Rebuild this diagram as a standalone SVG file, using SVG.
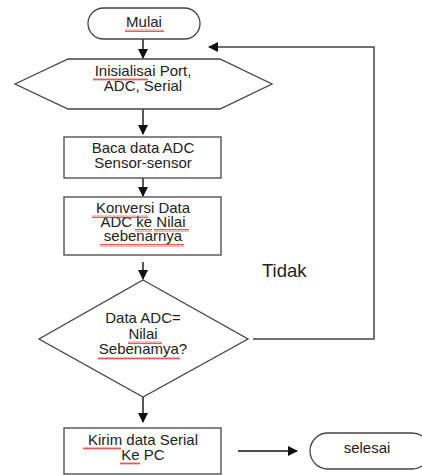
<svg xmlns="http://www.w3.org/2000/svg" width="422" height="475" viewBox="0 0 422 475">
<style>
.s{fill:#fff;stroke:#444;stroke-width:1.3}
.t{font-family:"Liberation Sans",Arial,sans-serif;font-size:15px;fill:#222;text-anchor:middle}
.c{fill:none;stroke:#111;stroke-width:1.4}
.w{fill:url(#wave)}
</style>
<defs>
<marker id="ah" markerWidth="10" markerHeight="10" refX="9" refY="5" orient="auto" markerUnits="userSpaceOnUse">
<path d="M0,0 L10,5 L0,10 Z" fill="#111"/>
</marker>
<pattern id="wave" width="4" height="3" patternUnits="userSpaceOnUse">
<path d="M0,2.5 L1,0.5 L2,2.5 L3,0.5 L4,2.5" fill="none" stroke="#e03030" stroke-width="0.8"/>
</pattern>
</defs>
<rect width="422" height="475" fill="#fff"/>
<g id="connectors">
<line class="c" x1="143" y1="39" x2="143" y2="58" marker-end="url(#ah)"/>
<line class="c" x1="143" y1="109" x2="143" y2="134" marker-end="url(#ah)"/>
<line class="c" x1="143" y1="178" x2="143" y2="196" marker-end="url(#ah)"/>
<line class="c" x1="143" y1="262" x2="143" y2="279" marker-end="url(#ah)"/>
<line class="c" x1="143" y1="397" x2="143" y2="422" marker-end="url(#ah)"/>
<line class="c" x1="238" y1="451" x2="297" y2="451" marker-end="url(#ah)"/>
<polyline class="c" style="stroke:#444;stroke-width:1.5" points="253,339 374,339 374,47 209,47" marker-end="url(#ah)"/>
<text class="t" x="262" y="277" style="font-size:18.5px;text-anchor:start">Tidak</text>
</g>
<g id="mulai">
<rect class="s" x="88" y="8" width="112" height="31" rx="15.5"/>
<text class="t" x="144" y="27">Mulai</text>
<rect class="w" x="125" y="29" width="39" height="3"/>
</g>
<g id="inisialisasi">
<polygon class="s" points="15,84 68,59 220,59 272,84 220,109 68,109"/>
<text class="t" x="143" y="76">Inisialisai Port,</text>
<text class="t" x="143" y="91">ADC, Serial</text>
<rect class="w" x="93" y="78" width="55" height="3"/>
</g>
<g id="baca">
<rect class="s" x="64" y="137" width="157" height="41"/>
<text class="t" x="143" y="153">Baca data ADC</text>
<text class="t" x="143" y="168">Sensor-sensor</text>
</g>
<g id="konversi">
<rect class="s" x="64" y="197" width="157" height="58"/>
<text class="t" x="143" y="213">Konversi Data</text>
<text class="t" x="143" y="227">ADC ke Nilai</text>
<text class="t" x="143" y="241">sebenarnya</text>
<rect class="w" x="92" y="215" width="56" height="3"/>
<rect class="w" x="135" y="229" width="17" height="3"/>
<rect class="w" x="154" y="229" width="35" height="3"/>
<rect class="w" x="100" y="244" width="84" height="3"/>
</g>
<g id="keputusan">
<polygon class="s" points="143,280 248,339 143,397 39,339"/>
<text class="t" x="143" y="323">Data ADC=</text>
<text class="t" x="143" y="339">Nilai</text>
<text class="t" x="143" y="354">Sebenamya?</text>
<rect class="w" x="128" y="341" width="34" height="3"/>
<rect class="w" x="98" y="357" width="82" height="3"/>
</g>
<g id="kirim">
<rect class="s" x="64" y="428" width="157" height="46"/>
<text class="t" x="143" y="445">Kirim data Serial</text>
<text class="t" x="143" y="460">Ke PC</text>
<rect class="w" x="83" y="447" width="38" height="3"/>
<rect class="w" x="120" y="462" width="20" height="3"/>
</g>
<g id="selesai">
<rect class="s" x="310" y="433" width="120" height="36" rx="18"/>
<text class="t" x="367" y="453">selesai</text>
</g>
</svg>
